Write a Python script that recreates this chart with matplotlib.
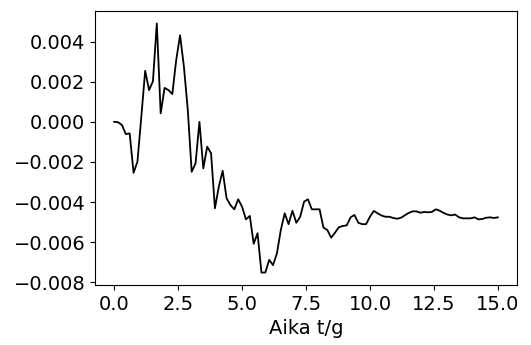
import numpy as np
import matplotlib
matplotlib.use('Agg')
import matplotlib.pyplot as plt

# time axis (100 samples from 0 to 15)
t = np.linspace(0, 15, 100)
vals = [
    0.0, -0.00002, -0.00016, -0.00061, -0.00058, -0.00254, -0.00199, 0.00025, 0.00254, 0.00158,
    0.00202, 0.0049, 0.00042, 0.00169, 0.00158, 0.00138, 0.00307, 0.00431, 0.00274, 0.00058,
    -0.00249, -0.00207, 0.0, -0.00232, -0.00124, -0.00157, -0.00431, -0.00323, -0.00244, -0.00381,
    -0.00415, -0.00436, -0.00386, -0.00423, -0.00486, -0.00469, -0.00608, -0.00555, -0.00751, -0.00751,
    -0.00688, -0.00714, -0.00655, -0.00539, -0.00456, -0.0051, -0.00443, -0.00503, -0.00473, -0.00398,
    -0.00386, -0.00436, -0.00436, -0.00436, -0.00527, -0.00539, -0.00577, -0.00552, -0.00525, -0.00519,
    -0.00516, -0.00476, -0.00464, -0.00503, -0.0051, -0.0051, -0.00473, -0.00444, -0.00456, -0.00467,
    -0.00473, -0.00473, -0.00479, -0.00483, -0.00478, -0.00466, -0.00454, -0.00446, -0.00446, -0.00453,
    -0.00449, -0.00451, -0.00449, -0.00436, -0.00443, -0.00454, -0.00462, -0.00466, -0.00462, -0.00476,
    -0.00481, -0.00481, -0.00481, -0.00476, -0.00486, -0.00484, -0.00478, -0.00476, -0.00479, -0.00476,
]

fig = plt.figure(figsize=(5.31, 3.45), dpi=100)
ax = fig.add_axes([95/531, 1-285/345, 422/531, 274/345])
ax.plot(t, vals, color='black', lw=1.3)
ax.set_xlabel('Aika t/g', fontsize=14)
ax.tick_params(labelsize=14)
fig.savefig('out.png', dpi=100)
